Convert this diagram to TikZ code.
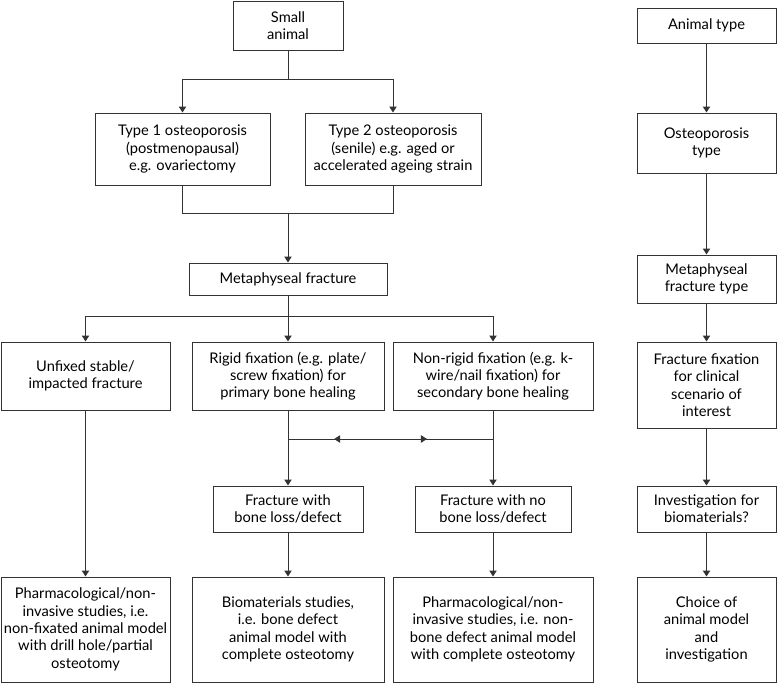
\documentclass[tikz,border=0pt]{standalone}
\usepackage{fontspec}
\setmainfont{Lato}
\usetikzlibrary{arrows.meta,decorations.markings}
\tikzset{every picture/.style={line width=0.75pt}}

\begin{document}
\begin{tikzpicture}[x=0.75pt,y=0.75pt,yscale=-1,xscale=1,
  box/.style 2 args={draw=black!80, rectangle, inner sep=0pt, align=center, minimum width=#1*0.75pt, minimum height=#2*0.75pt, font=\fontsize{11}{13}\selectfont},
  arr/.style={draw=black!80, -{Triangle[width=5.5pt,length=4.5pt]}},
  link/.style={draw=black!80}]
\useasboundingbox (0,0) rectangle (777,683);

% Left tree
\node[box={110}{49}] (small) at (288,25.5) {Small\\animal};
\node[box={175}{72}] (typeone) at (182.5,149) {Type 1 osteoporosis\\(postmenopausal)\\e.g. ovariectomy};
\node[box={176}{72}] (typetwo) at (393,149) {Type 2 osteoporosis\\(senile) e.g. aged or\\accelerated ageing strain};
\node[box={198}{32}] (meta) at (288,279) {Metaphyseal fracture};
\node[box={169}{68}] (unfixed) at (85.5,376) {Unfixed stable/\\impacted fracture};
\node[box={192}{68}] (rigid) at (288,376) {Rigid fixation (e.g. plate/\\screw fixation) for\\primary bone healing};
\node[box={200}{68}] (nonrigid) at (493,376) {Non-rigid fixation (e.g. k-\\wire/nail fixation) for\\secondary bone healing};
\node[box={150}{46}] (loss) at (288,509) {Fracture with\\bone loss/defect};
\node[box={156}{46}] (noloss) at (493,509) {Fracture with no\\bone loss/defect};
\node[box={169}{105}] (pharmone) at (85.5,629.5) {Pharmacological/non-\\invasive studies, i.e.\\non-fixated animal model\\with drill hole/partial\\osteotomy};
\node[box={192}{105}] (biomat) at (288,629.5) {Biomaterials studies,\\i.e. bone defect\\animal model with\\complete osteotomy};
\node[box={200}{105}] (pharmtwo) at (493,629.5) {Pharmacological/non-\\invasive studies, i.e. non-\\bone defect animal model\\with complete osteotomy};

% Right column
\node[box={139}{35}] (animal) at (706.5,25.5) {Animal type};
\node[box={139}{60}] (osteo) at (706.5,143) {Osteoporosis\\type};
\node[box={139}{48}] (metatype) at (706.5,279) {Metaphyseal\\fracture type};
\node[box={139}{86}] (fixation) at (706.5,385) {Fracture fixation\\for clinical\\scenario of\\interest};
\node[box={139}{46}] (invest) at (706.5,509) {Investigation for\\biomaterials?};
\node[box={139}{105}] (choice) at (706.5,629.5) {Choice of\\animal model\\and\\investigation};

% Connectors, left tree
\draw[arr] (small.south) -- (small.south |- 0,79) -| (typeone.north);
\draw[arr] (small.south) -- (small.south |- 0,79) -| (typetwo.north);
\draw[link] (typeone.south) -- (typeone.south |- 0,213) -- (typetwo.south |- 0,213) -- (typetwo.south);
\draw[arr] (meta.north |- 0,213) -- (meta.north);
\draw[arr] (meta.south) -- (meta.south |- 0,316) -| (unfixed.north);
\draw[arr] (meta.south) -- (meta.south |- 0,316) -| (nonrigid.north);
\draw[arr] (meta.south) -- (rigid.north);
\draw[arr] (unfixed.south) -- (pharmone.north);
\draw[arr] (rigid.south) -- (loss.north);
\draw[arr] (nonrigid.south) -- (noloss.north);
\draw[arr] (loss.south) -- (biomat.north);
\draw[arr] (noloss.south) -- (pharmtwo.north);
\draw[link, postaction={decorate}, decoration={markings,
    mark=at position 0.254 with {\arrow{Triangle[reversed,width=5.5pt,length=4.5pt]}},
    mark=at position 0.678 with {\arrow{Triangle[width=5.5pt,length=4.5pt]}}}]
  (rigid.south |- 0,439) -- (nonrigid.south |- 0,439);

% Connectors, right column
\draw[arr] (animal) -- (osteo);
\draw[arr] (osteo) -- (metatype);
\draw[arr] (metatype) -- (fixation);
\draw[arr] (fixation) -- (invest);
\draw[arr] (invest) -- (choice);

\end{tikzpicture}
\end{document}
